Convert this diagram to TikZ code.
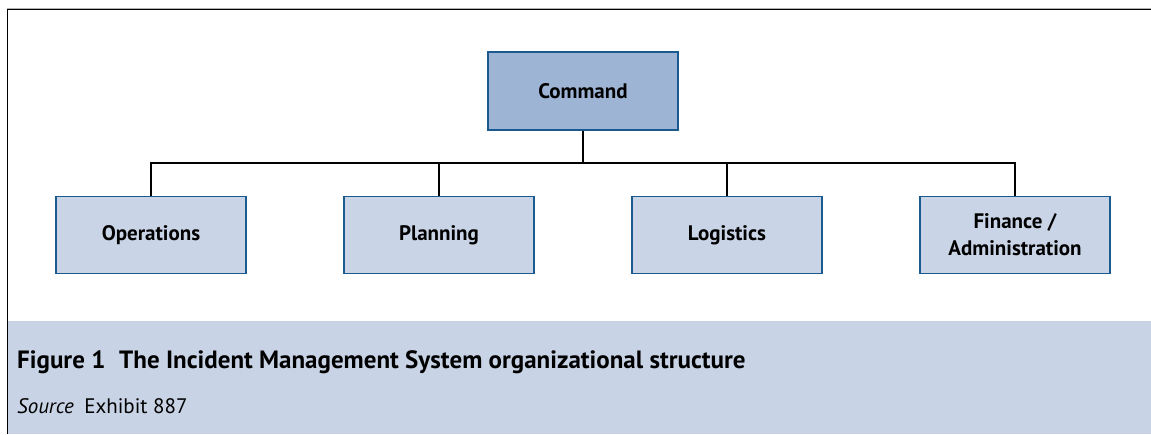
\documentclass[tikz,border=0pt]{standalone}
\usepackage{fontspec}
\setmainfont{PT Sans}
\definecolor{bandblue}{HTML}{C8D3E5}
\definecolor{cmdfill}{HTML}{9EB4D4}
\definecolor{childfill}{HTML}{C9D4E6}
\definecolor{edgeblue}{HTML}{1B5A8E}
\begin{document}
\begin{tikzpicture}[x=1pt,y=-1pt,
  cmdbox/.style={draw=edgeblue,line width=2.2pt,fill=cmdfill,minimum width=190pt,minimum height=78pt,inner sep=0pt,font=\fontsize{21}{25}\selectfont\bfseries},
  childbox/.style={draw=edgeblue,line width=1.6pt,fill=childfill,minimum width=190pt,minimum height=77pt,inner sep=0pt,align=center,font=\fontsize{21}{27}\selectfont\bfseries},
  link/.style={draw=black,line width=1.1pt}]
\useasboundingbox (0,0) rectangle (1151,434);
\fill[white] (0,0) rectangle (1151,434);
% caption band
\fill[bandblue] (8,321) rectangle (1151,434);
% frame
\draw[gray!60,line width=0.8pt] (7,8) -- (1151,8);
\draw[black,line width=1.6pt] (7.5,434) -- (7.5,9.5) -- (1151,9.5);
% nodes
\node[cmdbox] (cmd) at (583,91) {Command};
\node[childbox] (ops) at (151,235) {Operations};
\node[childbox] (pla) at (439,235) {Planning};
\node[childbox] (log) at (727,235) {Logistics};
\node[childbox] (fin) at (1015,235) {Finance /\\Administration};
\coordinate (bus) at (583,163);
% connectors
\draw[link] (cmd.south) -- (bus);
\draw[link] (ops.north) |- (bus) -| (fin.north);
\draw[link] (pla.north) -- (pla.north |- bus);
\draw[link] (log.north) -- (log.north |- bus);
% caption
\node[anchor=base west,inner sep=0pt,font=\fontsize{25}{29}\selectfont\bfseries] (cap) at (17,368) {Figure 1\hspace{0.55em}The Incident Management System organizational structure};
\node[anchor=base west,inner sep=0pt,font=\fontsize{21}{25}\selectfont] (src) at (17,413) {\textit{Source}\hspace{0.5em}Exhibit 887};
\end{tikzpicture}
\end{document}
